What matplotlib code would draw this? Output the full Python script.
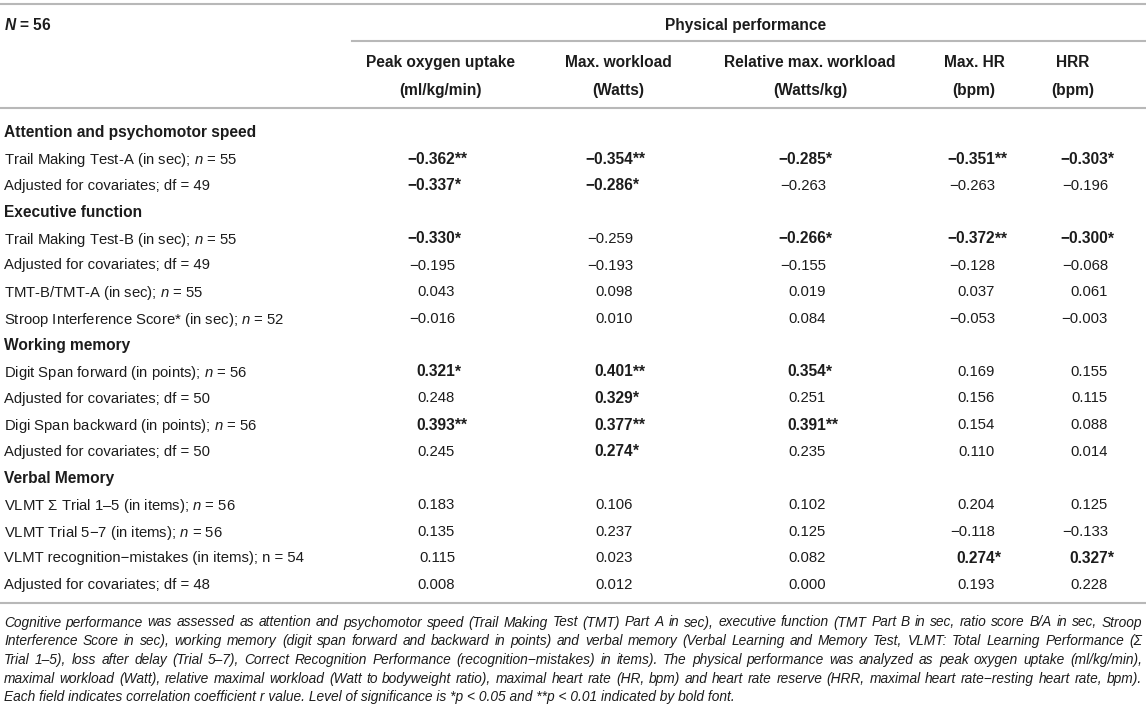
import matplotlib
matplotlib.use("Agg")
import matplotlib.pyplot as plt

# table content
columns = ["Peak oxygen uptake", "Max. workload", "Relative max. workload", "Max. HR", "HRR"]
units = ["(ml/kg/min)", "(Watts)", "(Watts/kg)", "(bpm)", "(bpm)"]

row_labels = [
    "Attention and psychomotor speed",
    "Trail Making Test-A (in sec); $n$ = 55",
    "Adjusted for covariates; df = 49",
    "Executive function",
    "Trail Making Test-B (in sec); $n$ = 55",
    "Adjusted for covariates; df = 49",
    "TMT-B/TMT-A (in sec); $n$ = 55",
    "Stroop Interference Score* (in sec); $n$ = 52",
    "Working memory",
    "Digit Span forward (in points); $n$ = 56",
    "Adjusted for covariates; df = 50",
    "Digi Span backward (in points); $n$ = 56",
    "Adjusted for covariates; df = 50",
    "Verbal Memory",
    "VLMT $\\mathit{Σ}$ Trial 1–5 (in items); $n$ = 56",
    "VLMT Trial 5−7 (in items); $n$ = 56",
    "VLMT recognition−mistakes (in items); n = 54",
    "Adjusted for covariates; df = 48",
]
section_rows = [0, 3, 8, 13]

peak_vo2 = [None, "−0.362**", "−0.337*", None, "−0.330*", "−0.195", "0.043", "−0.016", None,
            "0.321*", "0.248", "0.393**", "0.245", None, "0.183", "0.135", "0.115", "0.008"]
max_workload = [None, "−0.354**", "−0.286*", None, "−0.259", "−0.193", "0.098", "0.010", None,
                "0.401**", "0.329*", "0.377**", "0.274*", None, "0.106", "0.237", "0.023", "0.012"]
rel_workload = [None, "−0.285*", "−0.263", None, "−0.266*", "−0.155", "0.019", "0.084", None,
                "0.354*", "0.251", "0.391**", "0.235", None, "0.102", "0.125", "0.082", "0.000"]
max_hr = [None, "−0.351**", "−0.263", None, "−0.372**", "−0.128", "0.037", "−0.053", None,
          "0.169", "0.156", "0.154", "0.110", None, "0.204", "−0.118", "0.274*", "0.193"]
hrr = [None, "−0.303*", "−0.196", None, "−0.300*", "−0.068", "0.061", "−0.003", None,
       "0.155", "0.115", "0.088", "0.014", None, "0.125", "−0.133", "0.327*", "0.228"]
values = [peak_vo2, max_workload, rel_workload, max_hr, hrr]

footnote = [
    "Cognitive performance was assessed as attention and psychomotor speed (Trail Making Test (TMT) Part A in sec), executive function (TMT Part B in sec, ratio score B/A in sec, Stroop",
    "Interference Score in sec), working memory (digit span forward and backward in points) and verbal memory (Verbal Learning and Memory Test, VLMT: Total Learning Performance (Σ",
    "Trial 1–5), loss after delay (Trial 5–7), Correct Recognition Performance (recognition−mistakes) in items). The physical performance was analyzed as peak oxygen uptake (ml/kg/min),",
    "maximal workload (Watt), relative maximal workload (Watt to bodyweight ratio), maximal heart rate (HR, bpm) and heart rate reserve (HRR, maximal heart rate−resting heart rate, bpm).",
    "Each field indicates correlation coefficient r value. Level of significance is *p < 0.05 and **p < 0.01 indicated by bold font.",
]

plt.rcParams['font.family'] = ['Liberation Sans', 'DejaVu Sans']
plt.rcParams['mathtext.fontset'] = 'custom'
plt.rcParams['mathtext.rm'] = 'Liberation Sans'
plt.rcParams['mathtext.it'] = 'Liberation Sans:italic'
plt.rcParams['mathtext.bf'] = 'Liberation Sans:bold'
plt.rcParams['mathtext.bfit'] = 'Liberation Sans:italic:bold'

ink = '#1c1c1c'
rule = '#b8b8b8'
fs = 10.7
fs_bold = 11.2
fs_note = 9.9
va = 'center_baseline'

fig = plt.figure(figsize=(11.46, 7.11), dpi=100)
ax = fig.add_axes([0, 0, 1, 1])
ax.set_xlim(0, 1146)
ax.set_ylim(711, 0)
ax.axis('off')

left, right = 4, 1142
head_x = [441, 618, 810, 974, 1073]
num_right = [455, 633, 826, 995, 1108]

# rules
ax.plot([0, 1146], [4, 4], color=rule, lw=1.5)
ax.plot([352, 1146], [41, 41], color=rule, lw=1.5)
ax.plot([0, 1146], [108, 108], color=rule, lw=1.5)
ax.plot([0, 1146], [603, 603], color=rule, lw=1.5)

# header
ax.text(left, 24, r"$\mathbfit{N}$ = 56", fontsize=fs_bold, fontweight='bold', va=va, color=ink)
ax.text(746, 24, "Physical performance", fontsize=fs_bold, fontweight='bold', ha='center', va=va, color=ink)
for x, name, unit in zip(head_x, columns, units):
    ax.text(x, 61, name, fontsize=fs_bold, fontweight='bold', ha='center', va=va, color=ink)
    ax.text(x, 89, unit, fontsize=fs_bold, fontweight='bold', ha='center', va=va, color=ink)

# body
y0, dy = 131, 26.6
for i, label in enumerate(row_labels):
    y = y0 + i * dy
    if i in section_rows:
        ax.text(left, y, label, fontsize=fs_bold, fontweight='bold', va=va, color=ink)
        continue
    ax.text(left, y, label, fontsize=fs, va=va, color=ink)
    for xr, col in zip(num_right, values):
        v = col[i]
        num = v.rstrip('*')
        stars = v[len(num):]
        if stars:
            ax.text(xr, y, num, fontsize=fs_bold, fontweight='bold', ha='right', va=va, color=ink)
            ax.text(xr, y, stars, fontsize=fs_bold, fontweight='bold', ha='left', va=va, color=ink)
        else:
            ax.text(xr, y, num, fontsize=fs, ha='right', va=va, color=ink)

# footnote, justified
renderer = fig.canvas.get_renderer()
yn0, dyn = 621, 18.75
for j, line in enumerate(footnote):
    y = yn0 + j * dyn
    if j == len(footnote) - 1:
        ax.text(left, y, line, fontsize=fs_note, style='italic', va=va, color=ink)
        continue
    words = line.split(' ')
    objs = [ax.text(0, y, wd, fontsize=fs_note, style='italic', va=va, color=ink) for wd in words]
    widths = [t.get_window_extent(renderer).width for t in objs]
    gap = (right - left - sum(widths)) / (len(words) - 1)
    x = left
    for t, wdt in zip(objs, widths):
        t.set_x(x)
        x += wdt + gap

fig.savefig('out.png', dpi=100)
